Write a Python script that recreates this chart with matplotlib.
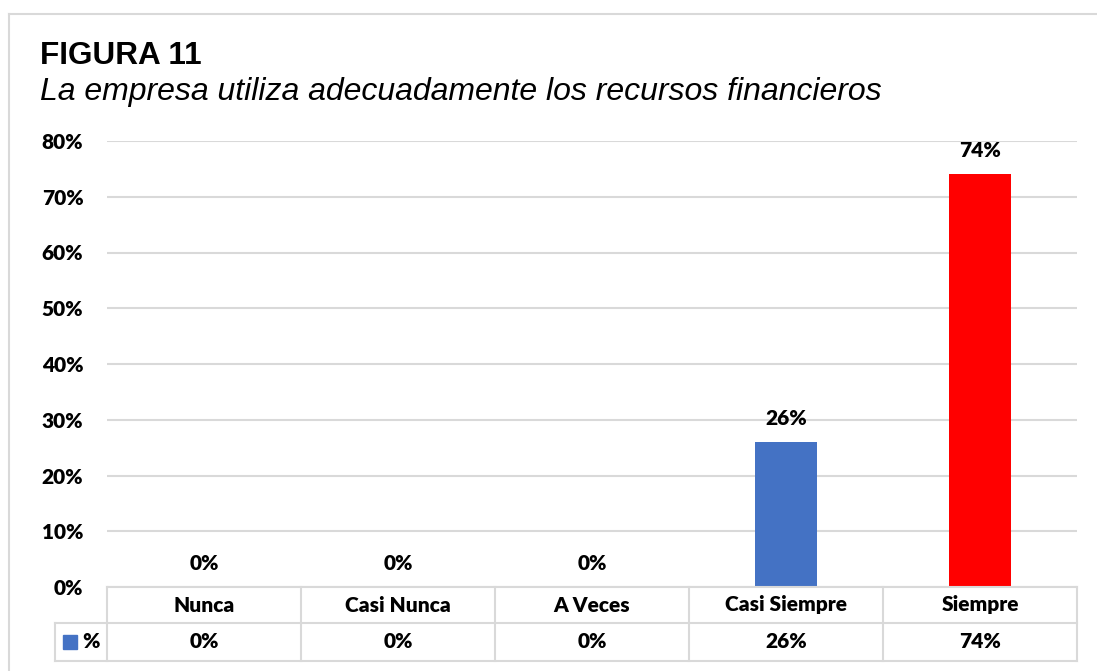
import matplotlib.pyplot as plt
import matplotlib.patches as mpatches
from matplotlib.lines import Line2D

categorias = ['Nunca', 'Casi Nunca', 'A Veces', 'Casi Siempre', 'Siempre']
porcentajes = [0.0, 0.0, 0.0, 0.26, 0.74]
colores = ['#4472C4', '#4472C4', '#4472C4', '#4472C4', '#FF0000']
yticks = [0, 0.1, 0.2, 0.3, 0.4, 0.5, 0.6, 0.7, 0.8]
serie = '%'

W, H = 1097, 671
fig = plt.figure(figsize=(W / 100, H / 100), dpi=100)


def fx(px):
    return px / W


def fy(py):
    return 1 - py / H


grid_col = '#d9d9d9'
lab_font = 'Lato'
lab_size = 15
lab_w = 'heavy'

# marco exterior (solo bordes izquierdo y superior visibles)
frame = dict(color=grid_col, linewidth=1.5, transform=fig.transFigure)
fig.add_artist(Line2D([fx(9), fx(9)], [fy(14), 0], **frame))
fig.add_artist(Line2D([fx(9), 1], [fy(14), fy(14)], **frame))

fig.text(fx(40), fy(64), 'FIGURA 11', fontsize=22.7, fontweight='bold',
         family='Liberation Sans', va='baseline')
fig.text(fx(40), fy(100), 'La empresa utiliza adecuadamente los recursos financieros',
         fontsize=23, style='italic', family='Liberation Sans', va='baseline')

left, right, top, bottom = 107, 1077, 141, 587
ax = fig.add_axes([fx(left), fy(bottom), fx(right) - fx(left), fy(top) - fy(bottom)])
x = range(len(categorias))
ax.bar(x, porcentajes, width=0.315, color=colores, zorder=3)
ax.set_xlim(-0.5, len(categorias) - 0.5)
ax.set_ylim(0, 0.8)
ax.set_yticks(yticks)
ax.set_yticklabels([f'{int(round(t * 100))}%' for t in yticks],
                   fontsize=lab_size, fontweight=lab_w, family=lab_font)
ax.set_xticks([])
ax.tick_params(axis='y', length=0, pad=17)
for s in ax.spines.values():
    s.set_visible(False)
ax.grid(axis='y', color=grid_col, linewidth=1.5, zorder=0)

for i, v in enumerate(porcentajes):
    ax.annotate(f'{int(round(v * 100))}%', (i, v), xytext=(0, 17), textcoords='offset points',
                ha='center', va='center', fontsize=lab_size, fontweight=lab_w, family=lab_font)

# tabla de datos
row1, row2, row3 = 587, 623, 661
hdr_left = 55
lw = 1.5
ln = dict(color=grid_col, linewidth=lw, transform=fig.transFigure)
fig.add_artist(Line2D([fx(left), fx(right)], [fy(row1), fy(row1)], **ln))
fig.add_artist(Line2D([fx(hdr_left), fx(right)], [fy(row2), fy(row2)], **ln))
fig.add_artist(Line2D([fx(hdr_left), fx(right)], [fy(row3), fy(row3)], **ln))
fig.add_artist(Line2D([fx(hdr_left), fx(hdr_left)], [fy(row2), fy(row3)], **ln))
cw = (right - left) / len(categorias)
for k in range(len(categorias) + 1):
    xx = left + k * cw
    fig.add_artist(Line2D([fx(xx), fx(xx)], [fy(row1), fy(row3)], **ln))
for i, (c, v) in enumerate(zip(categorias, porcentajes)):
    cx = left + (i + 0.5) * cw
    fig.text(fx(cx), fy((row1 + row2) / 2), c, ha='center', va='center',
             fontsize=lab_size, fontweight=lab_w, family=lab_font)
    fig.text(fx(cx), fy((row2 + row3) / 2), f'{int(round(v * 100))}%', ha='center', va='center',
             fontsize=lab_size, fontweight=lab_w, family=lab_font)

fig.add_artist(mpatches.Rectangle((fx(63), fy(649)), fx(77) - fx(63), fy(635) - fy(649),
                                  transform=fig.transFigure, color=colores[0]))
fig.text(fx(82), fy((row2 + row3) / 2), serie, ha='left', va='center',
         fontsize=lab_size, fontweight=lab_w, family=lab_font)

fig.savefig('out.png', dpi=100)
